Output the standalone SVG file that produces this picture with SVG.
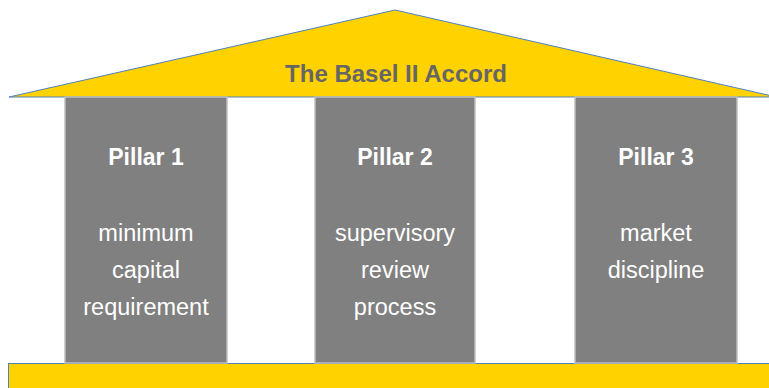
<svg xmlns="http://www.w3.org/2000/svg" width="769" height="388" viewBox="0 0 769 388">
<style>
.roof{fill:#FFD200;stroke:#4F81BD;stroke-width:1}
.pillar{fill:#808080;stroke:#BFBFBF;stroke-width:1.5}
.base{fill:#FFD200;stroke:#4F81BD;stroke-width:1}
.title{font-family:"Liberation Sans",Arial,sans-serif;font-weight:bold;font-size:24px;fill:#666666;text-anchor:middle}
.head{font-family:"Liberation Sans",Arial,sans-serif;font-weight:bold;font-size:23px;fill:#FFFFFF;text-anchor:middle}
.body{font-family:"Liberation Sans",Arial,sans-serif;font-size:23.5px;fill:#FFFFFF;text-anchor:middle}
</style>
<rect width="769" height="388" fill="#FFFFFF"/>
<g id="roof">
<polygon class="roof" points="9,97 395,10 772,96 772,97"/>
<text class="title" x="396" y="82">The Basel II Accord</text>
</g>
<g id="base">
<rect class="base" x="8.5" y="363.5" width="770" height="30"/>
</g>
<g id="pillar1">
<rect class="pillar" x="65" y="97" width="162" height="266"/>
<text class="head" x="146" y="165">Pillar 1</text>
<text class="body" x="146" y="241">minimum</text>
<text class="body" x="146" y="278">capital</text>
<text class="body" x="146" y="315">requirement</text>
</g>
<g id="pillar2">
<rect class="pillar" x="315" y="97" width="160" height="266"/>
<text class="head" x="395" y="165">Pillar 2</text>
<text class="body" x="395" y="241">supervisory</text>
<text class="body" x="395" y="278">review</text>
<text class="body" x="395" y="315">process</text>
</g>
<g id="pillar3">
<rect class="pillar" x="575" y="97" width="162" height="266"/>
<text class="head" x="656" y="165">Pillar 3</text>
<text class="body" x="656" y="241">market</text>
<text class="body" x="656" y="278">discipline</text>
</g>
<g id="connectors"/>
</svg>
